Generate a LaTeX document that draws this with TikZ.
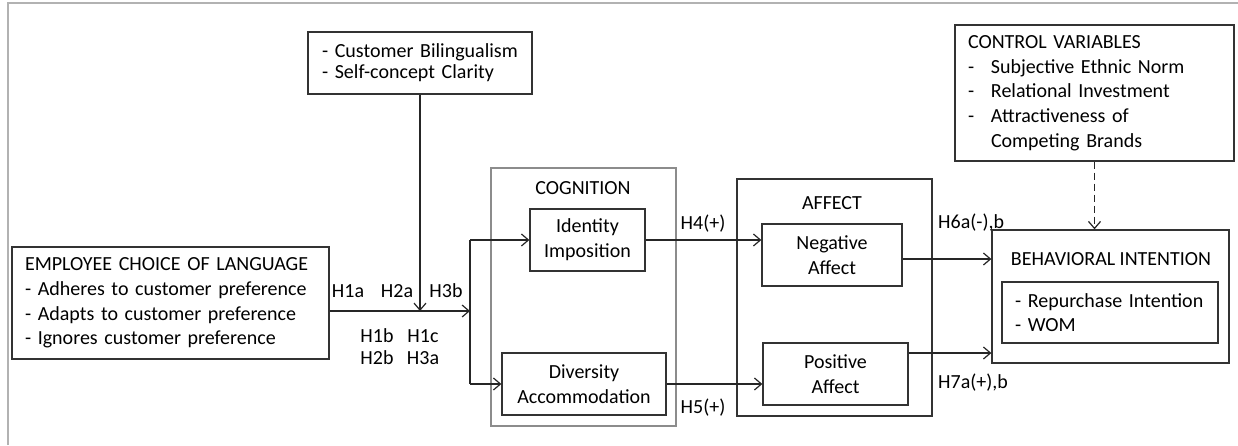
\documentclass[tikz,border=0pt]{standalone}
\usepackage{fontspec}
\setmainfont{Carlito}
\usetikzlibrary{arrows.meta}
\begin{document}
\begin{tikzpicture}[x=1pt,y=-1pt,
  txt/.style={font=\fontsize{20}{24.7}\selectfont,text=black,inner sep=0pt},
  box/.style={draw=black!80,line width=1.3pt,rectangle,anchor=center,txt},
  gbox/.style={draw=black!45,line width=2pt,rectangle,anchor=center,inner sep=0pt},
  lbl/.style={txt,text height=13pt,text depth=0pt},
  conn/.style={draw=black!85,line width=1.3pt},
  arr/.style={conn,-{Straight Barb[length=7pt,width=12pt,line width=1.2pt]}},
  frame/.style={draw=black!30,line width=1.5pt}
]
\useasboundingbox (0,0) rectangle (1238,445);
\draw[frame] (8,445) -- (8,3) -- (1238,3);

% containers
\node[gbox,minimum width=185pt,minimum height=258pt] (cog) at (583.5,297) {};
\node[box,minimum width=195pt,minimum height=237pt] (aff) at (834.5,297.5) {};
\node[box,minimum width=237pt,minimum height=133pt] (bi) at (1110.5,296.5) {};

\node[txt] (cogt) at (583,188) {COGNITION};
\node[txt] (afft) at (832,203) {AFFECT};
\node[txt] (bit) at (1111,259) {BEHAVIORAL INTENTION};

% main boxes
\node[box,inner xsep=13pt,text width=291pt,minimum height=112pt,align=left] (emp) at (170.5,303)
 {EMPLOYEE CHOICE OF LANGUAGE\\- Adheres to customer preference\\- Adapts to customer preference\\- Ignores customer preference};
\node[box,font=\fontsize{20}{21}\selectfont,inner xsep=14pt,text width=196pt,minimum height=62pt,align=left] (mod) at (420,63)
 {- Customer Bilingualism\\- Self-concept Clarity};
\node[box,minimum width=115pt,minimum height=62pt,align=center] (id) at (587.5,240) {Identity\\Imposition};
\node[box,minimum width=164pt,minimum height=62pt,align=center] (div) at (584,384) {Diversity\\Accommodation};
\node[box,minimum width=140pt,minimum height=62pt,align=center] (neg) at (832,255) {Negative\\Affect};
\node[box,minimum width=145pt,minimum height=62pt,align=center] (pos) at (835.5,374) {Positive\\Affect};
\node[box,font=\fontsize{20}{24}\selectfont,inner xsep=13pt,text width=190pt,minimum height=61pt,align=left] (bii) at (1110,312.5)
 {- Repurchase Intention\\- WOM};
\node[box,inner xsep=13pt,text width=253pt,minimum height=136pt,align=left] (ctrl) at (1094.5,93)
 {CONTROL VARIABLES\\\makebox[23pt][l]{-}Subjective Ethnic Norm\\\makebox[23pt][l]{-}Relational Investment\\\makebox[23pt][l]{-}Attractiveness of\\\hspace*{23pt}Competing Brands};

% connectors
\coordinate (split) at (470,311);
\draw[arr] ([yshift=-8pt]emp.east) -- (split);
\draw[conn] (split |- id.west) -- (split |- div.west);
\draw[arr] (split |- id.west) -- (id.west);
\draw[arr] (split |- div.west) -- (div.west);
\draw[arr] (mod.south) -- (mod.south |- split);
\draw[arr] (id.east) -- (id.east -| neg.west);
\draw[arr] (div.east) -- (div.east -| pos.west);
\draw[arr] ([yshift=-4pt]neg.east) -- ([yshift=-4pt]neg.east -| bi.west);
\draw[arr] ([yshift=21pt]pos.east) -- ([yshift=21pt]pos.east -| bi.west);
\draw[arr,dash pattern=on 7pt off 4pt] (ctrl.south) -- (ctrl.south |- bi.north);

% labels
\node[lbl] (h1a) at (348,291) {H1a};
\node[lbl] (h2a) at (397,291) {H2a};
\node[lbl] (h3b) at (446,291) {H3b};
\node[lbl] (h1b) at (377,336) {H1b};
\node[lbl] (h1c) at (423,336) {H1c};
\node[lbl] (h2b) at (377,358) {H2b};
\node[lbl] (h3a) at (423,358) {H3a};
\node[lbl] (h4) at (703,223) {H4(+)};
\node[lbl] (h5) at (703,407) {H5(+)};
\node[lbl,anchor=west] (h6) at (938,222) {H6a(-),b};
\node[lbl,anchor=west] (h7) at (938,382) {H7a(+),b};
\end{tikzpicture}
\end{document}
